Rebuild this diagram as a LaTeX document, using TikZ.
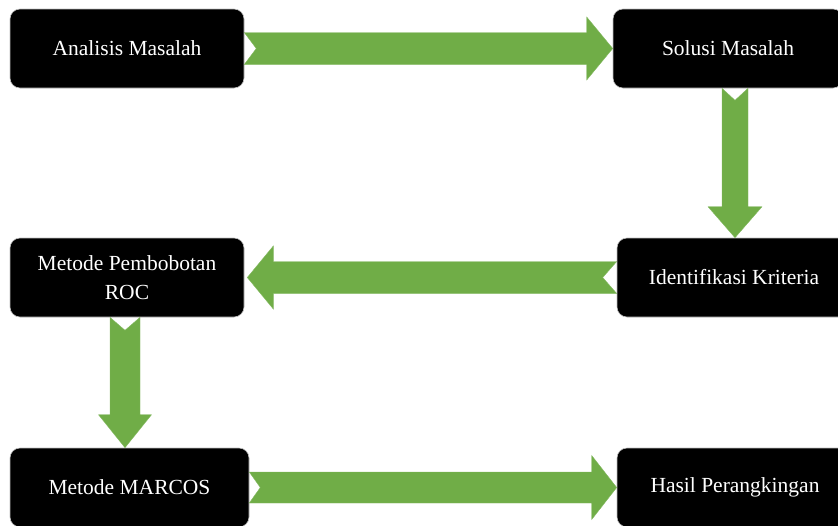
\documentclass[tikz,border=0pt]{standalone}
\usepackage{fontspec}
\setmainfont{Liberation Serif}
\usetikzlibrary{calc}
\definecolor{arrgreen}{HTML}{70AD47}
\tikzset{
  procbox/.style={fill=black, draw=gray!50, line width=0.6pt, rounded corners=10pt,
    text=white, font=\fontsize{21.5}{29}\selectfont, align=center, inner sep=0pt,
    minimum height=79pt},
  arrowfill/.style={fill=arrgreen, draw=arrgreen!85!white, line width=0.4pt}
}
% horizontal block arrow: #1 from, #2 to, #3 sign (+1 right, -1 left), #4 shaft half, #5 head half, #6 head length, #7 notch depth
\newcommand{\harrow}[7]{%
  \filldraw[arrowfill] let \p1=(#1), \p2=(#2) in
    (\x1, \y1+#4) -- (\x2-#3*#6, \y1+#4) -- (\x2-#3*#6, \y1+#5) -- (\x2, \y1)
    -- (\x2-#3*#6, \y1-#5) -- (\x2-#3*#6, \y1-#4) -- (\x1, \y1-#4) -- (\x1+#3*#7, \y1) -- cycle;}
% downward block arrow: #1 from, #2 to, #3 shaft half, #4 head half, #5 head length, #6 notch depth
\newcommand{\darrow}[6]{%
  \filldraw[arrowfill] let \p1=(#1), \p2=(#2) in
    (\x1-#3, \y1) -- (\x1-#3, \y2+#5) -- (\x1-#4, \y2+#5) -- (\x1, \y2)
    -- (\x1+#4, \y2+#5) -- (\x1+#3, \y2+#5) -- (\x1+#3, \y1) -- (\x1, \y1-#6) -- cycle;}

\begin{document}
\begin{tikzpicture}[x=1pt,y=-1pt]
\useasboundingbox (0,0) rectangle (838,525);
\clip (0,0) rectangle (838,525);

\node[procbox, minimum width=234pt] (b1) at (127,48.5) {Analisis Masalah};
\node[procbox, minimum width=230pt] (b2) at (728,48.5) {Solusi Masalah};
\node[procbox, minimum width=234pt] (b3) at (734,277.5) {Identifikasi Kriteria};
\node[procbox, minimum width=234pt] (b4) at (127,277.5) {Metode Pembobotan\\ROC};
\node[procbox, minimum width=239pt] (b5) at (129.5,487.5) {Metode MARCOS};
\node[procbox, minimum width=236pt] (b6) at (735,487.5) {Hasil Perangkingan};

\coordinate (a2s) at ($(b2.south)+(7,0)$);
\coordinate (a4s) at ($(b4.south)+(-2,0)$);
\coordinate (a3t) at ($(b4.east)+(3,0)$);

\harrow{b1.east}{b2.west}{1}{16pt}{31.5pt}{26pt}{12pt}
\darrow{a2s}{b3.north}{13pt}{27pt}{31pt}{12pt}
\harrow{b3.west}{a3t}{-1}{16pt}{31.5pt}{26pt}{14pt}
\darrow{a4s}{b5.north}{15pt}{26.5pt}{33pt}{13pt}
\harrow{b5.east}{b6.west}{1}{15.5pt}{32pt}{25pt}{11pt}
\end{tikzpicture}
\end{document}
